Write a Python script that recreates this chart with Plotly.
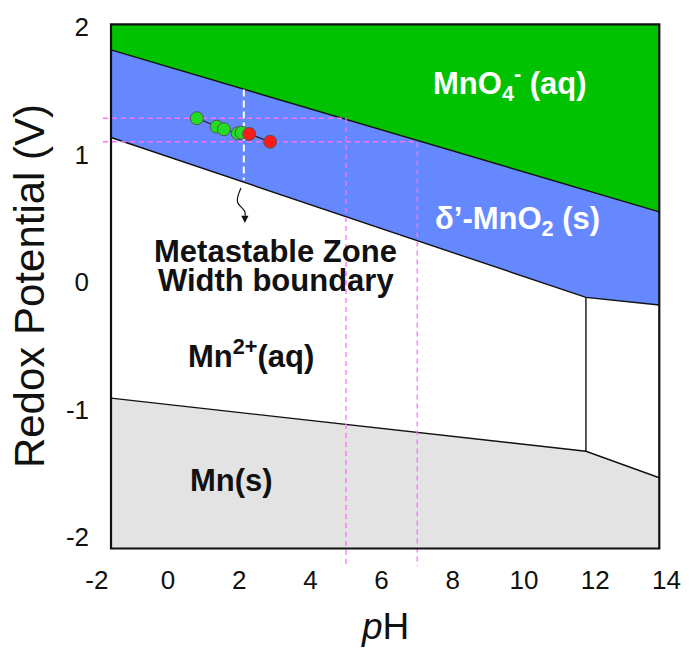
import plotly.graph_objects as go

# ---- Diagram data (pH, potential in V) ----
PH_LEFT, PH_RIGHT = -1.6, 13.8          # edges of the computed diagram
E_TOP, E_BOTTOM = 2.02, -2.09
PH_HYDROLYSIS = 11.74                    # Mn2+ / Mn(OH)x vertical boundary

MNO4_BOUND_PH = [-1.6, 13.8]
MNO4_BOUND_E = [1.82, 0.55]
MNO2_BOUND_PH = [-1.6, 11.74, 13.8]
MNO2_BOUND_E = [1.133, -0.121, -0.18]
MN_BOUND_PH = [-1.6, 11.74, 13.8]
MN_BOUND_E = [-0.911, -1.327, -1.535]

# measured solution states
SAMPLE_PH = [0.81, 1.37, 1.57, 1.96, 2.07, 2.28, 2.87]
SAMPLE_E = [1.284, 1.218, 1.198, 1.166, 1.171, 1.161, 1.10]
SAMPLE_STATE = ["g", "g", "g", "g", "g", "r", "r"]

# reference guides
GUIDE_E = [1.284, 1.10]
GUIDE_PH = [5, 7]
GUIDE_PH_START = -1.83
GUIDE_E_END = -2.23
MSZW_PH = 2.13
MSZW_E = [1.51, 0.80]
SQUIGGLE_PH = [2.05, 1.95, 2.16, 2.16]
SQUIGGLE_E = [0.737, 0.63, 0.551, 0.50]
ARROW_TIP = (2.16, 0.463)

X_TICKS = [-2, 0, 2, 4, 6, 8, 10, 12, 14]
X_TICK_TEXT = ["-2", "0", "2", "4", "6", "8", "10", "12", "14"]
Y_TICKS = [-2, -1, 0, 1, 2]
Y_TICK_TEXT = ["-2", "-1", "0", "1", "2"]

X_RANGE = [-2.022, 14.157]
Y_RANGE = [-2.235, 2.039]

FONT = "Arial, Liberation Sans, sans-serif"
GREEN = "#00c200"
BLUE = "#6688ff"
GREY = "#e3e3e3"
MAGENTA = "#ff70ff"

fig = go.Figure()

# stability regions
fig.add_trace(go.Scatter(
    x=[PH_LEFT, PH_RIGHT, PH_RIGHT, PH_LEFT],
    y=[E_TOP, E_TOP, MNO4_BOUND_E[1], MNO4_BOUND_E[0]],
    fill="toself", fillcolor=GREEN, mode="lines", line=dict(width=0),
    hoverinfo="skip", showlegend=False))
fig.add_trace(go.Scatter(
    x=MNO4_BOUND_PH + MNO2_BOUND_PH[::-1],
    y=MNO4_BOUND_E + MNO2_BOUND_E[::-1],
    fill="toself", fillcolor=BLUE, mode="lines", line=dict(width=0),
    hoverinfo="skip", showlegend=False))
fig.add_trace(go.Scatter(
    x=MN_BOUND_PH + [PH_RIGHT, PH_LEFT],
    y=MN_BOUND_E + [E_BOTTOM, E_BOTTOM],
    fill="toself", fillcolor=GREY, mode="lines", line=dict(width=0),
    hoverinfo="skip", showlegend=False))

# boundary lines
for bx, by in [(MNO4_BOUND_PH, MNO4_BOUND_E), (MNO2_BOUND_PH, MNO2_BOUND_E),
               (MN_BOUND_PH, MN_BOUND_E),
               ([PH_HYDROLYSIS, PH_HYDROLYSIS], [MNO2_BOUND_E[1], MN_BOUND_E[1]])]:
    fig.add_trace(go.Scatter(x=bx, y=by, mode="lines",
                             line=dict(color="#111111", width=1.4),
                             hoverinfo="skip", showlegend=False))

# magenta guide lines
for e, ph in zip(GUIDE_E, GUIDE_PH):
    fig.add_trace(go.Scatter(
        x=[GUIDE_PH_START, ph, ph], y=[e, e, GUIDE_E_END], mode="lines",
        line=dict(color=MAGENTA, width=1.3, dash="5px,4px"),
        hoverinfo="skip", showlegend=False))

# metastable zone width boundary marker
fig.add_trace(go.Scatter(
    x=[MSZW_PH, MSZW_PH], y=MSZW_E, mode="lines",
    line=dict(color="white", width=2, dash="7px,4px"),
    hoverinfo="skip", showlegend=False))

# sample trajectory
fig.add_trace(go.Scatter(
    x=SAMPLE_PH, y=SAMPLE_E, mode="lines",
    line=dict(color="#222222", width=1.2), hoverinfo="skip", showlegend=False))
fig.add_trace(go.Scatter(
    x=SAMPLE_PH, y=SAMPLE_E, mode="markers",
    marker=dict(size=13,
                color=["#22dd22" if s == "g" else "#ff1a1a" for s in SAMPLE_STATE],
                line=dict(color="#555555", width=1)),
    showlegend=False))

# squiggly pointer
fig.add_trace(go.Scatter(
    x=SQUIGGLE_PH, y=SQUIGGLE_E, mode="lines", line_shape="spline",
    line=dict(color="#111111", width=1.2), hoverinfo="skip", showlegend=False))
fig.add_annotation(x=ARROW_TIP[0], y=ARROW_TIP[1], ax=SQUIGGLE_PH[-1], ay=SQUIGGLE_E[-1],
                   xref="x", yref="y", axref="x", ayref="y", text="",
                   showarrow=True, arrowhead=2, arrowsize=1.2, arrowwidth=1.2,
                   arrowcolor="#111111")

# frame
fig.add_shape(type="rect", x0=PH_LEFT, x1=PH_RIGHT, y0=E_BOTTOM, y1=E_TOP,
              xref="x", yref="y", line=dict(color="#111111", width=2.2),
              fillcolor="rgba(0,0,0,0)", layer="above")

# region labels
labels = [
    (9.6, 1.56, "MnO<sub>4</sub><sup>-</sup> (aq)", "white"),
    (9.83, 0.478, "δ’-MnO<sub>2</sub> (s)", "white"),
    (3.03, 0.243, "Metastable Zone", "#111111"),
    (3.03, 0.010, "Width boundary", "#111111"),
    (2.32, -0.565, "Mn<sup>2+</sup>(aq)", "#111111"),
    (1.79, -1.56, "Mn(s)", "#111111"),
]
for lx, ly, txt, col in labels:
    fig.add_annotation(x=lx, y=ly, text=txt, showarrow=False, xref="x", yref="y",
                       xanchor="center", yanchor="middle",
                       font=dict(family=FONT, size=31, color=col, weight="bold"))

# axis titles
fig.add_annotation(x=-0.115, y=0.515, xref="paper", yref="paper", showarrow=False,
                   xanchor="center", yanchor="middle",
                   text="Redox Potential (V)", textangle=-90,
                   font=dict(family=FONT, size=42, color="#111111"))
fig.add_annotation(x=0.502, y=-0.11, xref="paper", yref="paper", showarrow=False,
                   xanchor="center", yanchor="middle",
                   text="<i>p</i>H", font=dict(family=FONT, size=37, color="#111111"))

fig.update_xaxes(range=X_RANGE, tickvals=X_TICKS, ticktext=X_TICK_TEXT,
                 showgrid=False, zeroline=False, showline=False, ticks="",
                 tickfont=dict(family=FONT, size=26, color="#111111"),
                 ticklabelstandoff=-5)
fig.update_yaxes(range=Y_RANGE, tickvals=Y_TICKS, ticktext=Y_TICK_TEXT,
                 showgrid=False, zeroline=False, showline=False, ticks="",
                 tickfont=dict(family=FONT, size=26, color="#111111"),
                 ticklabelstandoff=6)

fig.update_layout(width=693, height=648, margin=dict(l=96, r=21, t=22, b=81),
                  paper_bgcolor="white", plot_bgcolor="white", showlegend=False)

fig.write_html("out.html")
